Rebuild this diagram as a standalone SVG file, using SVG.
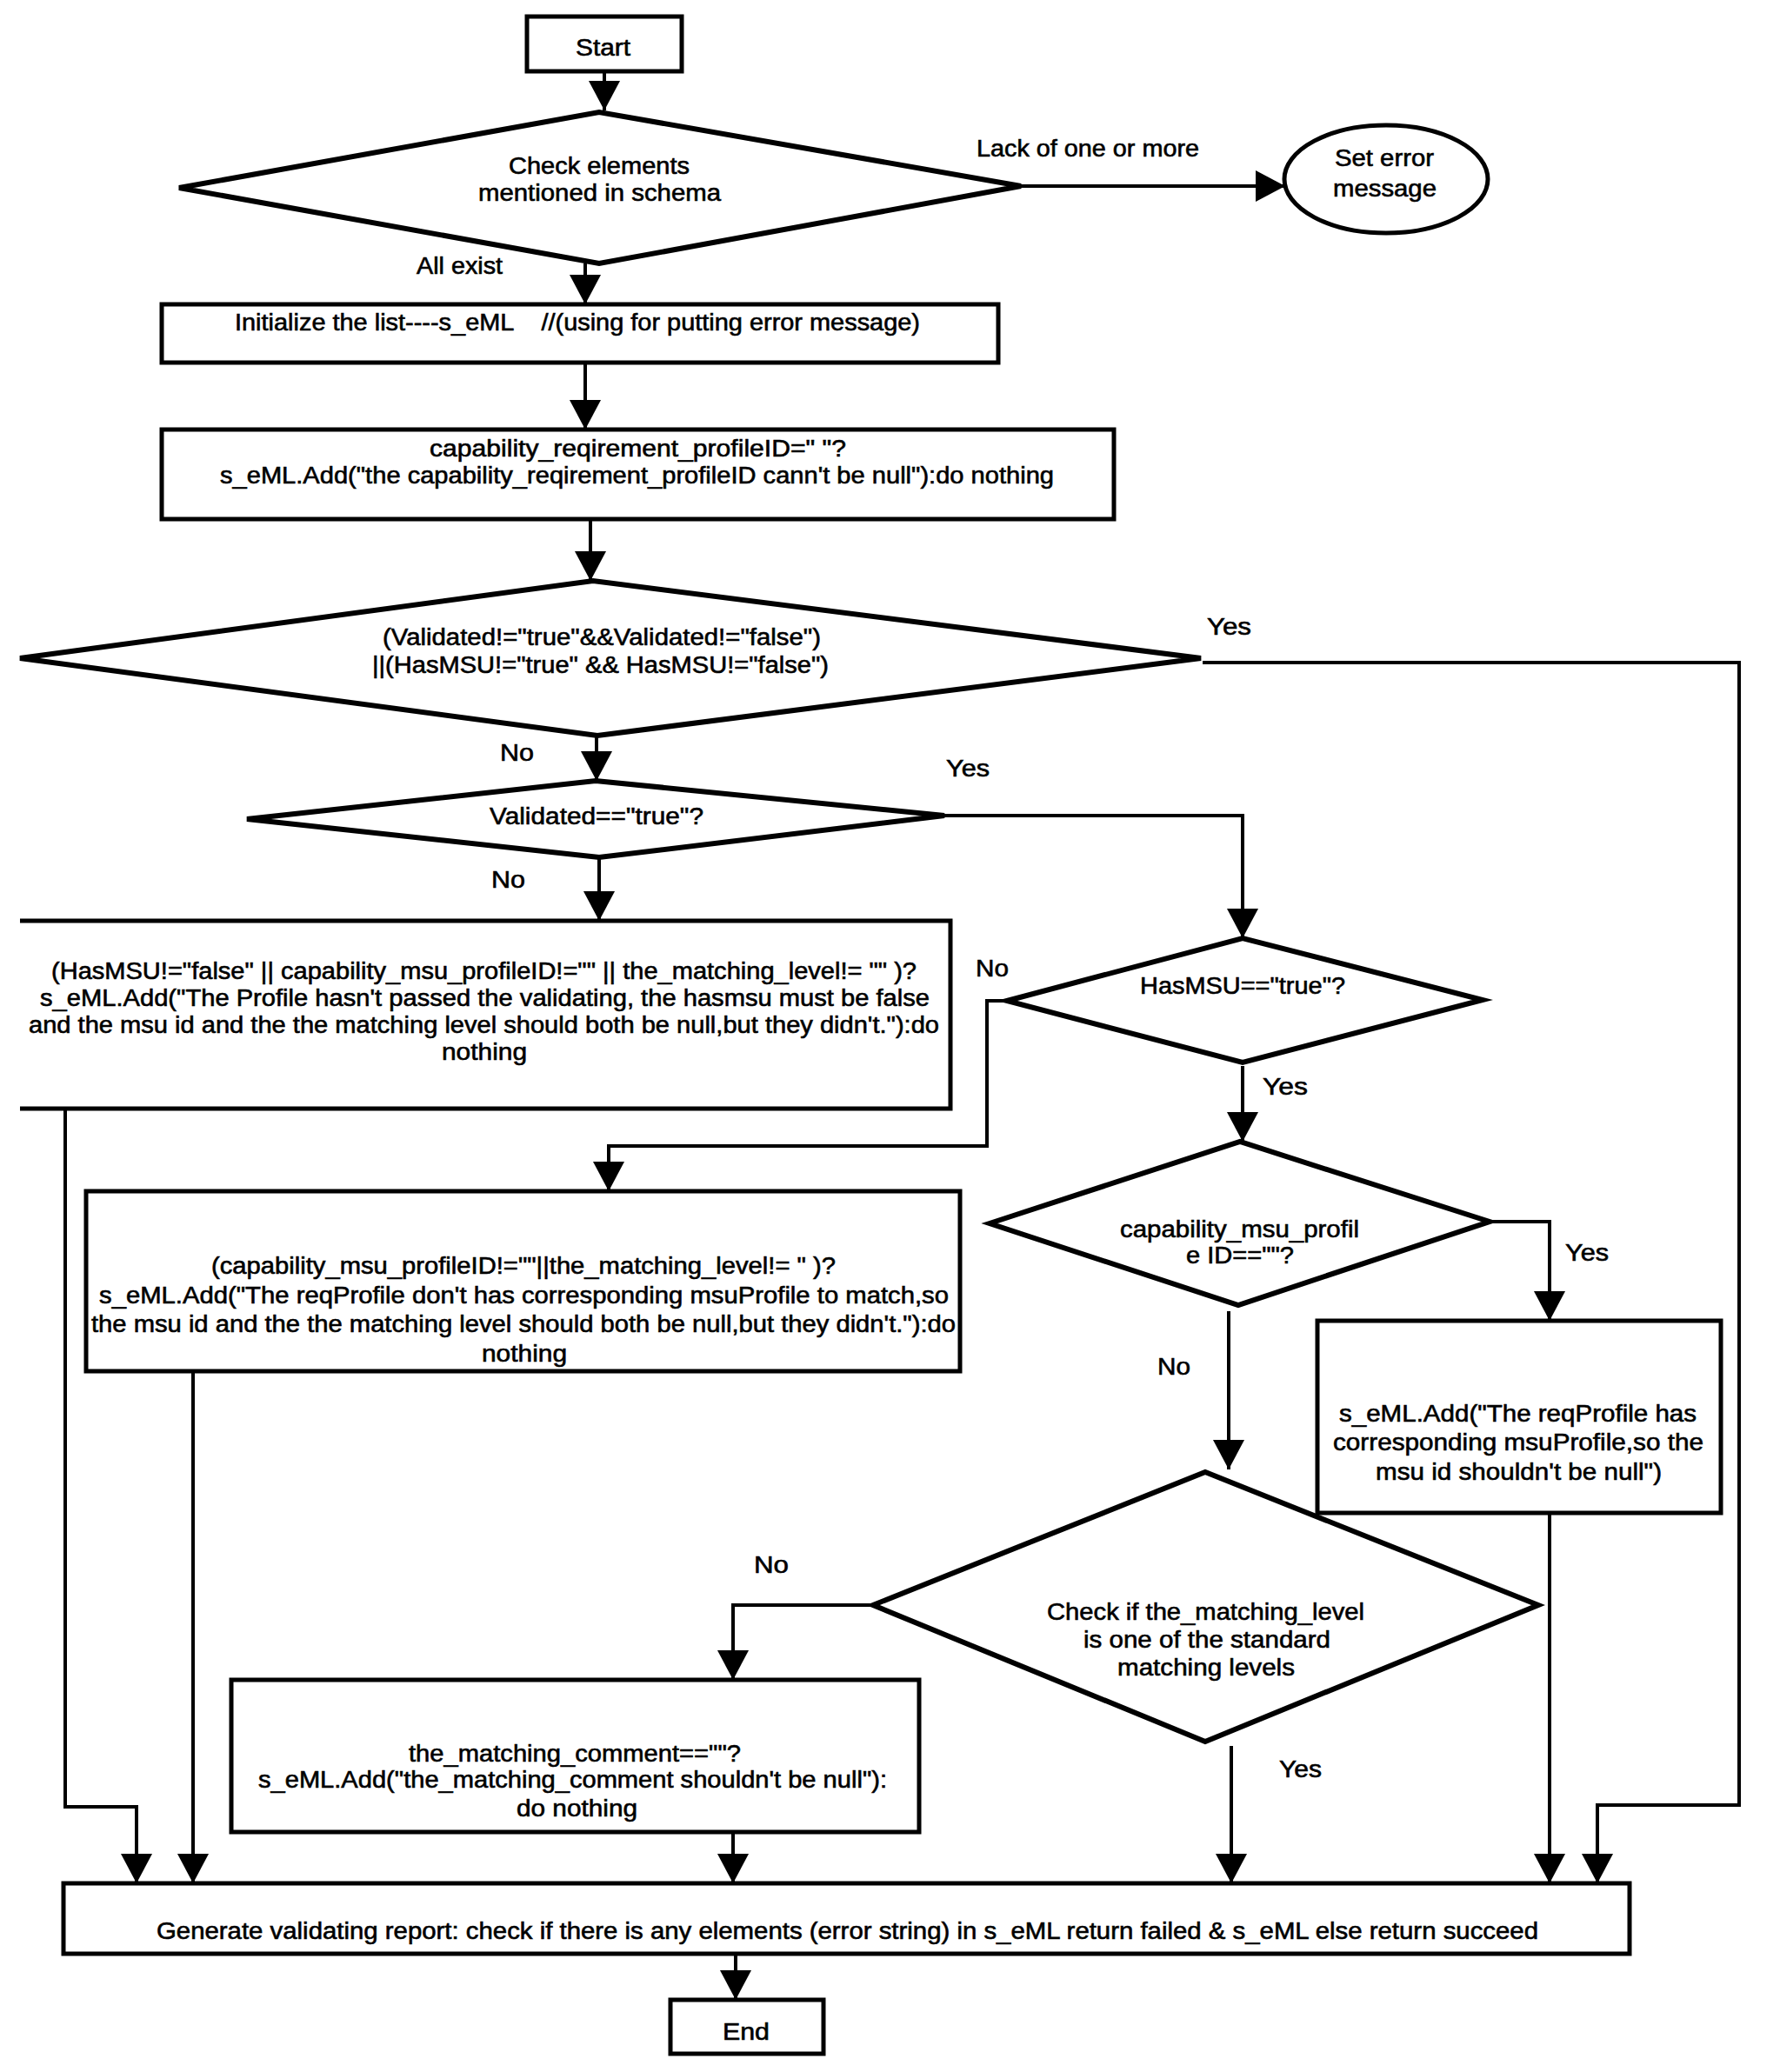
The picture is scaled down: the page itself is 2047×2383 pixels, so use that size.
<svg xmlns="http://www.w3.org/2000/svg" width="2047" height="2383" viewBox="0 0 2047 2383">
<style>
.n{fill:#fff;stroke:#000;stroke-width:5}
.d{fill:#fff;stroke:#000;stroke-width:6;stroke-linejoin:miter}
.c{fill:none;stroke:#000;stroke-width:4}
text{font-family:"Liberation Sans",Arial,sans-serif;font-size:27px;fill:#000;stroke:#000;stroke-width:0.6}
</style>
<defs>
<marker id="a" markerUnits="userSpaceOnUse" markerWidth="36" markerHeight="36" refX="34" refY="18" orient="auto">
<path d="M0,0 L34,18 L0,36 Z" fill="#000"/>
</marker>
</defs>
<g id="connectors">
<path class="c" d="M695,82 V127" marker-end="url(#a)"/>
<path class="c" d="M1174,214 H1478" marker-end="url(#a)"/>
<path class="c" d="M673,303 V350" marker-end="url(#a)"/>
<path class="c" d="M673,417 V494" marker-end="url(#a)"/>
<path class="c" d="M679,597 V668" marker-end="url(#a)"/>
<path class="c" d="M686,846 V898" marker-end="url(#a)"/>
<path class="c" d="M689,986 V1059" marker-end="url(#a)"/>
<path class="c" d="M1383,762 H2000 V2076 H1837 V2166" marker-end="url(#a)"/>
<path class="c" d="M1086,938 H1429 V1079" marker-end="url(#a)"/>
<path class="c" d="M1158,1151 H1135 V1318 H700 V1370" marker-end="url(#a)"/>
<path class="c" d="M1429,1226 V1313" marker-end="url(#a)"/>
<path class="c" d="M1713,1405 H1782 V1519" marker-end="url(#a)"/>
<path class="c" d="M1413,1508 V1690" marker-end="url(#a)"/>
<path class="c" d="M1782,1700 V2166" marker-end="url(#a)"/>
<path class="c" d="M1004,1846 H843 V1932" marker-end="url(#a)"/>
<path class="c" d="M1416,2008 V2166" marker-end="url(#a)"/>
<path class="c" d="M843,2107 V2166" marker-end="url(#a)"/>
<path class="c" d="M222,1577 V2166" marker-end="url(#a)"/>
<path class="c" d="M75,1275 V2078 H157 V2166" marker-end="url(#a)"/>
<path class="c" d="M846,2247 V2300" marker-end="url(#a)"/>
</g>
<g id="labels">
<text x="1123" y="180" textLength="256" lengthAdjust="spacingAndGlyphs">Lack of one or more</text>
<text x="479" y="315" textLength="99" lengthAdjust="spacingAndGlyphs">All exist</text>
<text x="1388" y="730" textLength="51" lengthAdjust="spacingAndGlyphs">Yes</text>
<text x="575" y="875" textLength="39" lengthAdjust="spacingAndGlyphs">No</text>
<text x="1088" y="893" textLength="50" lengthAdjust="spacingAndGlyphs">Yes</text>
<text x="565" y="1021" textLength="39" lengthAdjust="spacingAndGlyphs">No</text>
<text x="1122" y="1123" textLength="38" lengthAdjust="spacingAndGlyphs">No</text>
<text x="1452" y="1259" textLength="52" lengthAdjust="spacingAndGlyphs">Yes</text>
<text x="1800" y="1450" textLength="50" lengthAdjust="spacingAndGlyphs">Yes</text>
<text x="1331" y="1581" textLength="38" lengthAdjust="spacingAndGlyphs">No</text>
<text x="867" y="1809" textLength="40" lengthAdjust="spacingAndGlyphs">No</text>
<text x="1471" y="2044" textLength="49" lengthAdjust="spacingAndGlyphs">Yes</text>
</g>
<g id="start">
<rect class="n" x="606" y="19" width="178" height="63"/>
<text x="662" y="64" textLength="63" lengthAdjust="spacingAndGlyphs">Start</text>
</g>
<g id="check-elements">
<polygon class="d" points="206,216 689,129 1174,214 689,303"/>
<text x="585" y="200" textLength="208" lengthAdjust="spacingAndGlyphs">Check elements</text>
<text x="550" y="231" textLength="279" lengthAdjust="spacingAndGlyphs">mentioned in schema</text>
</g>
<g id="set-error">
<ellipse class="n" cx="1594" cy="206" rx="117" ry="62"/>
<text x="1535" y="191" textLength="114" lengthAdjust="spacingAndGlyphs">Set error</text>
<text x="1533" y="226" textLength="119" lengthAdjust="spacingAndGlyphs">message</text>
</g>
<g id="init">
<rect class="n" x="186" y="350" width="962" height="67"/>
<text x="270" y="380" textLength="788" lengthAdjust="spacingAndGlyphs" xml:space="preserve">Initialize the list----s_eML    //(using for putting error message)</text>
</g>
<g id="req-profile">
<rect class="n" x="186" y="494" width="1095" height="103"/>
<text x="494" y="525" textLength="479" lengthAdjust="spacingAndGlyphs">capability_reqirement_profileID=" "?</text>
<text x="253" y="556" textLength="959" lengthAdjust="spacingAndGlyphs">s_eML.Add("the capability_reqirement_profileID cann't be null"):do nothing</text>
</g>
<g id="validated-check">
<polygon class="d" points="23,757 682,668 1381,757 687,846"/>
<text x="440" y="742" textLength="504" lengthAdjust="spacingAndGlyphs">(Validated!="true"&amp;&amp;Validated!="false")</text>
<text x="428" y="774" textLength="525" lengthAdjust="spacingAndGlyphs">||(HasMSU!="true" &amp;&amp; HasMSU!="false")</text>
</g>
<g id="validated-true">
<polygon class="d" points="284,942 685,898 1086,938 689,986"/>
<text x="563" y="948" textLength="246" lengthAdjust="spacingAndGlyphs">Validated=="true"?</text>
</g>
<g id="not-validated">
<path class="n" d="M23,1059 H1093 V1275 H23"/>
<text x="59" y="1126" textLength="995" lengthAdjust="spacingAndGlyphs">(HasMSU!="false" || capability_msu_profileID!="" || the_matching_level!= "" )?</text>
<text x="46" y="1157" textLength="1023" lengthAdjust="spacingAndGlyphs">s_eML.Add("The Profile hasn't passed the validating, the hasmsu must be false</text>
<text x="33" y="1188" textLength="1047" lengthAdjust="spacingAndGlyphs">and the msu id and the the matching level should both be null,but they didn't."):do</text>
<text x="508" y="1219" textLength="98" lengthAdjust="spacingAndGlyphs">nothing</text>
</g>
<g id="hasmsu">
<polygon class="d" points="1158,1151 1429,1079 1705,1150 1429,1222"/>
<text x="1311" y="1143" textLength="236" lengthAdjust="spacingAndGlyphs">HasMSU=="true"?</text>
</g>
<g id="no-msu">
<rect class="n" x="99" y="1370" width="1005" height="207"/>
<text x="243" y="1465" textLength="718" lengthAdjust="spacingAndGlyphs">(capability_msu_profileID!=""||the_matching_level!= " )?</text>
<text x="114" y="1499" textLength="977" lengthAdjust="spacingAndGlyphs">s_eML.Add("The reqProfile don't has corresponding msuProfile to match,so</text>
<text x="105" y="1532" textLength="994" lengthAdjust="spacingAndGlyphs">the msu id and the the matching level should both be null,but they didn't."):do</text>
<text x="554" y="1566" textLength="98" lengthAdjust="spacingAndGlyphs">nothing</text>
</g>
<g id="msu-id-check">
<polygon class="d" points="1138,1407 1426,1313 1713,1405 1424,1501"/>
<text x="1288" y="1423" textLength="275" lengthAdjust="spacingAndGlyphs">capability_msu_profil</text>
<text x="1364" y="1453" textLength="124" lengthAdjust="spacingAndGlyphs">e ID==""?</text>
</g>
<g id="msu-id-null">
<rect class="n" x="1515" y="1519" width="464" height="221"/>
<text x="1540" y="1635" textLength="411" lengthAdjust="spacingAndGlyphs">s_eML.Add("The reqProfile has</text>
<text x="1533" y="1668" textLength="426" lengthAdjust="spacingAndGlyphs">corresponding msuProfile,so the</text>
<text x="1582" y="1702" textLength="329" lengthAdjust="spacingAndGlyphs">msu id shouldn't be null")</text>
</g>
<g id="level-check">
<polygon class="d" points="1004,1846 1386,1693 1769,1846 1386,2003"/>
<text x="1204" y="1863" textLength="365" lengthAdjust="spacingAndGlyphs">Check if the_matching_level</text>
<text x="1246" y="1895" textLength="284" lengthAdjust="spacingAndGlyphs">is one of the standard</text>
<text x="1285" y="1927" textLength="204" lengthAdjust="spacingAndGlyphs">matching levels</text>
</g>
<g id="comment-check">
<rect class="n" x="266" y="1932" width="791" height="175"/>
<text x="470" y="2026" textLength="382" lengthAdjust="spacingAndGlyphs">the_matching_comment==""?</text>
<text x="297" y="2056" textLength="723" lengthAdjust="spacingAndGlyphs">s_eML.Add("the_matching_comment shouldn't be null"):</text>
<text x="594" y="2089" textLength="139" lengthAdjust="spacingAndGlyphs">do nothing</text>
</g>
<g id="report">
<rect class="n" x="73" y="2166" width="1801" height="81"/>
<text x="180" y="2230" textLength="1589" lengthAdjust="spacingAndGlyphs">Generate validating report: check if there is any elements (error string) in s_eML return failed &amp; s_eML else return succeed</text>
</g>
<g id="end">
<rect class="n" x="771" y="2300" width="176" height="62"/>
<text x="831" y="2346" textLength="54" lengthAdjust="spacingAndGlyphs">End</text>
</g>
</svg>
